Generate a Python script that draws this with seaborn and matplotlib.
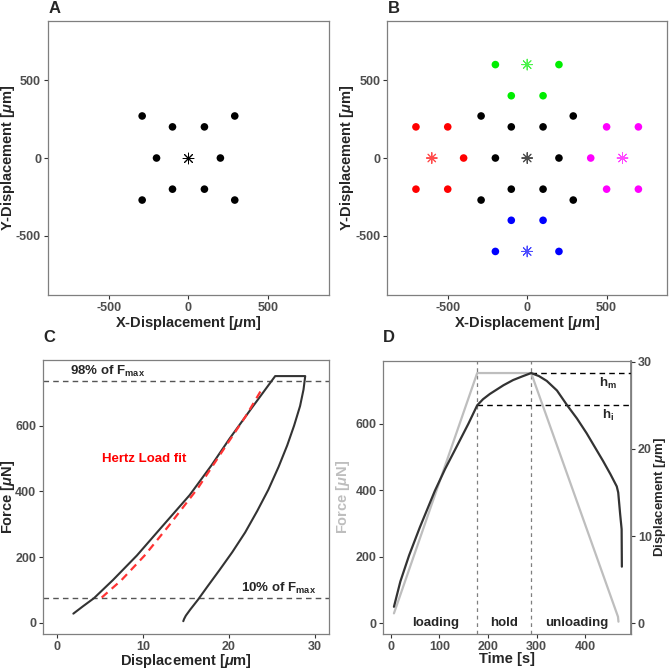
import matplotlib
matplotlib.use("Agg")
import matplotlib.pyplot as plt
import matplotlib.transforms as mtransforms
import seaborn as sns
import pandas as pd

# --- panel A / B : indentation grid (um) ---
ring_x = [-290, 290, -100, 100, -200, 200, -100, 100, -290, 290]
ring_y = [270, 270, 200, 200, 0, 0, -200, -200, -270, -270]
green_x = [-200, 200, -100, 100]
green_y = [600, 600, 400, 400]
blue_x = [-200, 200, -100, 100]
blue_y = [-600, -600, -400, -400]
red_x = [-700, -500, -400, -700, -500]
red_y = [200, 200, 0, -200, -200]
magenta_x = [500, 700, 400, 500, 700]
magenta_y = [200, 200, 0, -200, -200]
center_x = [0, 0, 0, -600, 600]
center_y = [0, 600, -600, 0, 0]
center_group = ["black", "green", "blue", "red", "magenta"]

# --- panel C : force vs displacement (load, hold, unload) ---
c_disp = [1.9, 3.0, 4.3, 6.5, 9.3, 12.3, 15.45, 18.0, 20.1, 22.7, 25.4,
          28.9, 28.7, 28.3, 27.6, 26.8, 25.8, 24.6, 23.3, 21.9, 20.4, 18.9,
          17.5, 16.4, 15.5, 15.0, 14.8, 14.7]
c_force = [28, 50, 75, 130, 205, 295, 389, 480, 561, 655, 751,
           751, 710, 660, 600, 540, 475, 405, 340, 275, 215, 160,
           110, 70, 40, 22, 12, 5]
fit_disp = [5.2, 7.5, 10.2, 13.0, 16.4, 19.7, 22.0, 24.0]
fit_force = [77, 130, 205, 295, 410, 540, 630, 718]

# --- panel D : force & displacement vs time ---
d_time_force = [6.8, 178, 289, 467.5, 468.5]
d_force = [30, 752, 752, 20, 5]
d_time_disp = [6.8, 20, 38, 60, 91, 112, 137, 160, 178,
               190, 204, 218, 232, 252, 270, 289,
               305, 321, 342, 363, 383, 403, 420, 437, 452, 465,
               468, 472, 475, 475.5]
d_disp = [1.9, 4.8, 7.8, 11.0, 15.2, 17.7, 20.4, 22.9, 25.0,
          25.7, 26.3, 26.8, 27.3, 27.9, 28.3, 28.7,
          28.35, 27.8, 26.7, 25.0, 23.5, 21.8, 20.2, 18.6, 17.1, 15.7,
          15.0, 12.5, 10.8, 6.5]
phase_names = ["loading", "hold", "unloading"]

sns.set_theme(style="white")
plt.rcParams["font.family"] = ["Liberation Sans", "DejaVu Sans"]
plt.rcParams["font.weight"] = "bold"
plt.rcParams["axes.labelweight"] = "bold"
plt.rcParams["axes.unicode_minus"] = False
plt.rcParams["mathtext.fontset"] = "custom"
plt.rcParams["mathtext.rm"] = "Liberation Sans:bold"
plt.rcParams["mathtext.it"] = "Liberation Sans:italic:bold"
plt.rcParams["mathtext.bf"] = "Liberation Sans:bold"

DARK = "#333333"
LIGHT = "#BEBEBE"
TICK = "#4D4D4D"
LAB = 10.5
ANN = 9.5
TSZ = 9
palette = {"black": "black", "green": "#00EE00", "blue": "#0000FF",
           "red": "#FF0000", "magenta": "#FF00FF"}


def style_ax(ax):
    for s in ax.spines.values():
        s.set_color("#7F7F7F")
        s.set_linewidth(0.9)
    ax.tick_params(axis="both", which="both", direction="out", length=3,
                   width=0.8, color=DARK, labelsize=TSZ, labelcolor=TICK,
                   bottom=True, left=True, pad=2)
    ax.grid(False)


fig = plt.figure(figsize=(6.69, 6.69), dpi=100)
axA = fig.add_axes([0.0717, 0.559, 0.420, 0.4096])
axB = fig.add_axes([0.579, 0.559, 0.418, 0.4096])
axC = fig.add_axes([0.0647, 0.0523, 0.4275, 0.4096])
axD = fig.add_axes([0.573, 0.0523, 0.370, 0.4085])

ring = pd.DataFrame({"x": ring_x, "y": ring_y, "g": "black"})
nbrs = pd.concat([
    ring,
    pd.DataFrame({"x": green_x, "y": green_y, "g": "green"}),
    pd.DataFrame({"x": blue_x, "y": blue_y, "g": "blue"}),
    pd.DataFrame({"x": red_x, "y": red_y, "g": "red"}),
    pd.DataFrame({"x": magenta_x, "y": magenta_y, "g": "magenta"}),
])
centers = pd.DataFrame({"x": center_x, "y": center_y, "g": center_group})

# A
sns.scatterplot(data=ring, x="x", y="y", color="black", s=30,
                edgecolor="none", ax=axA, legend=False)
sns.scatterplot(data=centers.iloc[:1], x="x", y="y", color="black",
                marker=(8, 2, 0), s=60, linewidth=0.7, ax=axA, legend=False)

# B
sns.scatterplot(data=nbrs, x="x", y="y", hue="g", palette=palette, s=30,
                edgecolor="none", ax=axB, legend=False)
sns.scatterplot(data=centers, x="x", y="y", hue="g", palette=palette,
                marker=(8, 2, 0), s=60, linewidth=0.7, alpha=0.7,
                ax=axB, legend=False)

for ax in (axA, axB):
    ax.set_xlim(-880, 880)
    ax.set_ylim(-880, 880)
    ax.set_xticks([-500, 0, 500])
    ax.set_yticks([-500, 0, 500])
    ax.set_xlabel(r"X-Displacement [$\mu$m]", fontsize=LAB, labelpad=0)
    ax.set_ylabel(r"Y-Displacement [$\mu$m]", fontsize=LAB)
    style_ax(ax)
axA.yaxis.set_label_coords((17 - 48) / 281, 0.5)
axB.yaxis.set_label_coords((356 - 387.3) / 279.7, 0.5)

# C
curve = pd.DataFrame({"d": c_disp, "f": c_force})
fit = pd.DataFrame({"d": fit_disp, "f": fit_force})
f_max = max(c_force)
axC.axhline(0.98 * f_max, color="#555555", lw=1, dashes=(4, 3))
axC.axhline(0.10 * f_max, color="#555555", lw=1, dashes=(4, 3))
sns.lineplot(data=curve, x="d", y="f", sort=False, estimator=None,
             color=DARK, lw=1.5, ax=axC)
sns.lineplot(data=fit, x="d", y="f", sort=False, estimator=None,
             color="#FF3333", lw=1.6, ax=axC)
axC.lines[-1].set_dashes((3.5, 2.5))
axC.text(1.5, 0.98 * f_max + 6, r"98% of $\mathbf{F_{max}}$", fontsize=ANN,
         ha="left", va="bottom")
axC.text(30.2, 0.10 * f_max + 6, r"10% of $\mathbf{F_{max}}$", fontsize=ANN,
         ha="right", va="bottom")
axC.text(5.2, 498, "Hertz Load fit", color="#FF0000", fontsize=ANN,
         ha="left", va="center")
axC.set_xlim(-1.6, 31.7)
axC.set_ylim(-34, 800)
axC.set_xticks([0, 10, 20, 30])
axC.set_yticks([0, 200, 400, 600])
axC.set_xlabel(r"Displacement [$\mu$m]", fontsize=LAB, labelpad=-0.5)
axC.set_ylabel(r"Force [$\mu$N]", fontsize=LAB)
axC.yaxis.set_label_coords((16.8 - 43.3) / 286, 0.5)
style_ax(axC)

# D
scale = max(d_force) / max(d_disp)
t_load_end, t_hold_end = d_time_force[1], d_time_force[2]
force_df = pd.DataFrame({"t": d_time_force, "f": d_force})
disp_df = pd.DataFrame({"t": d_time_disp, "f": [v * scale for v in d_disp]})
x_lo, x_hi = -15, 494
for t in (t_load_end, t_hold_end):
    axD.axvline(t, color="#7F7F7F", lw=0.9, dashes=(3, 3))
h_m = max(d_disp) * scale
h_i = d_disp[d_time_disp.index(t_load_end)] * scale
axD.axhline(h_m, xmin=(t_hold_end - x_lo) / (x_hi - x_lo), color="black",
            lw=1, dashes=(4, 3))
axD.axhline(h_i, xmin=(t_load_end - x_lo) / (x_hi - x_lo), color="black",
            lw=1, dashes=(4, 3))
sns.lineplot(data=force_df, x="t", y="f", sort=False, estimator=None,
             color=LIGHT, lw=1.6, ax=axD)
sns.lineplot(data=disp_df, x="t", y="f", sort=False, estimator=None,
             color=DARK, lw=1.6, ax=axD)
bounds = [d_time_force[0], t_load_end, t_hold_end, d_time_disp[-1]]
for i, name in enumerate(phase_names):
    axD.text((bounds[i] + bounds[i + 1]) / 2, 0, name, fontsize=ANN,
             ha="center", va="center")
axD.text(447, h_m - 30, r"$\mathbf{h_m}$", fontsize=ANN, ha="center", va="center")
axD.text(447, h_i - 30, r"$\mathbf{h_i}$", fontsize=ANN, ha="center", va="center")
axD.set_xlim(x_lo, x_hi)
axD.set_ylim(-32, 789)
axD.set_xticks([0, 100, 200, 300, 400])
axD.set_yticks([0, 200, 400, 600])
axD.set_xlabel("Time [s]", fontsize=LAB, labelpad=-0.5)
axD.set_ylabel(r"Force [$\mu$N]", fontsize=LAB, color=LIGHT)
axD.yaxis.set_label_coords((352 - 383.3) / 247.4, 0.5)
style_ax(axD)
sec = axD.secondary_yaxis("right", functions=(lambda f: f / scale,
                                              lambda d: d * scale))
sec.set_yticks([0, 10, 20, 30])
sec.tick_params(direction="out", length=3, width=0.8, color=DARK,
                labelsize=TSZ, labelcolor=TICK, pad=2)
sec.spines["right"].set_color("#7F7F7F")
sec.set_ylabel(r"Displacement [$\mu$m]", fontsize=9.5)
sec.yaxis.set_label_coords(
    652 / 669, 0.5,
    transform=mtransforms.blended_transform_factory(fig.transFigure,
                                                    axD.transAxes))

for x, y, lab in [(0.072, 0.998, "A"), (0.58, 0.998, "B"),
                  (0.065, 0.506, "C"), (0.573, 0.506, "D")]:
    fig.text(x, y, lab, fontsize=12, fontweight="bold", ha="left", va="top")

fig.savefig("out.png", dpi=100)
